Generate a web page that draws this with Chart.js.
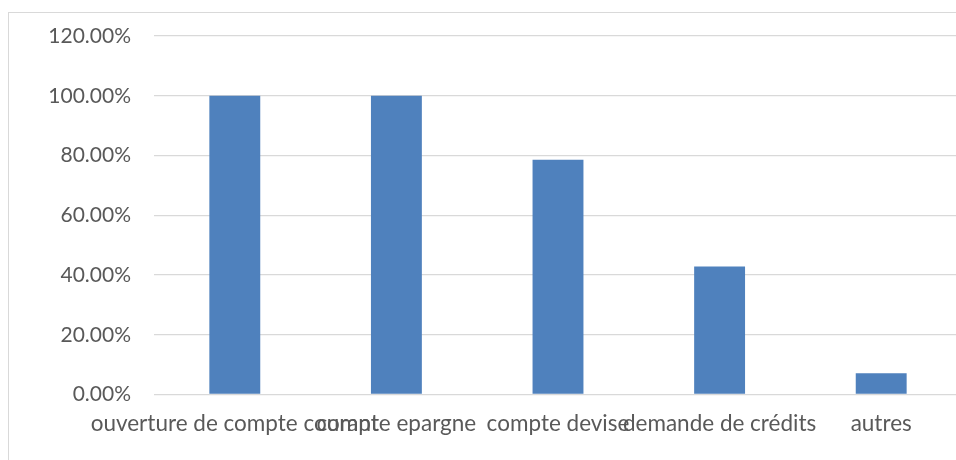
<!DOCTYPE html>
<html>
<head>
<meta charset="utf-8">
<script src="https://cdn.jsdelivr.net/npm/chart.js@4/dist/chart.umd.min.js"></script>
<style>
  html, body { margin: 0; padding: 0; background: #ffffff; overflow: hidden; width: 956px; height: 460px; }
  #frame { position: absolute; left: 8px; top: 12px; width: 1000px; height: 500px;
           border-left: 1px solid #d9d9d9; border-top: 1px solid #d9d9d9; box-sizing: border-box; }
  #wrap { position: absolute; left: 0; top: 0; width: 976px; height: 460px; }
</style>
</head>
<body>
<div id="frame"></div>
<div id="wrap"><canvas id="c" width="976" height="460"></canvas></div>
<script>
// Services demandés (part des répondants)
const categories = ['ouverture de compte courant', 'compte epargne', 'compte devise', 'demande de crédits', 'autres'];
const shares = [1.0, 1.0, 0.7857, 0.4286, 0.0714];
const yTicks = [0, 0.2, 0.4, 0.6, 0.8, 1.0, 1.2];

const textColor = '#595959';
const gridColor = '#d9d9d9';
const barColor = '#4f81bd';

new Chart(document.getElementById('c'), {
  type: 'bar',
  data: {
    labels: categories,
    datasets: [{
      data: shares,
      backgroundColor: barColor,
      borderWidth: 0,
      categoryPercentage: 1.0,
      barPercentage: 0.315
    }]
  },
  options: {
    responsive: false,
    animation: false,
    layout: { padding: { top: 36, right: 14, left: 0, bottom: 0 } },
    plugins: { legend: { display: false }, tooltip: { enabled: false } },
    scales: {
      x: {
        grid: { display: false, drawTicks: false },
        border: { display: false },
        ticks: { color: textColor, font: { family: 'Lato', size: 22.5 }, maxRotation: 0, minRotation: 0, autoSkip: false, padding: 16 },
        afterFit: (s) => { s.height = 65.5; }
      },
      y: {
        min: 0,
        max: 1.2,
        afterBuildTicks: (s) => { s.ticks = yTicks.map(v => ({ value: v })); },
        grid: { color: gridColor, lineWidth: 1.3, drawTicks: false },
        border: { display: false },
        ticks: {
          color: textColor, font: { family: 'Lato', size: 21 }, padding: 23,
          callback: (v) => (v * 100).toFixed(2) + '%'
        },
        afterFit: (s) => { s.width = 154; }
      }
    }
  }
});
</script>
</body>
</html>
